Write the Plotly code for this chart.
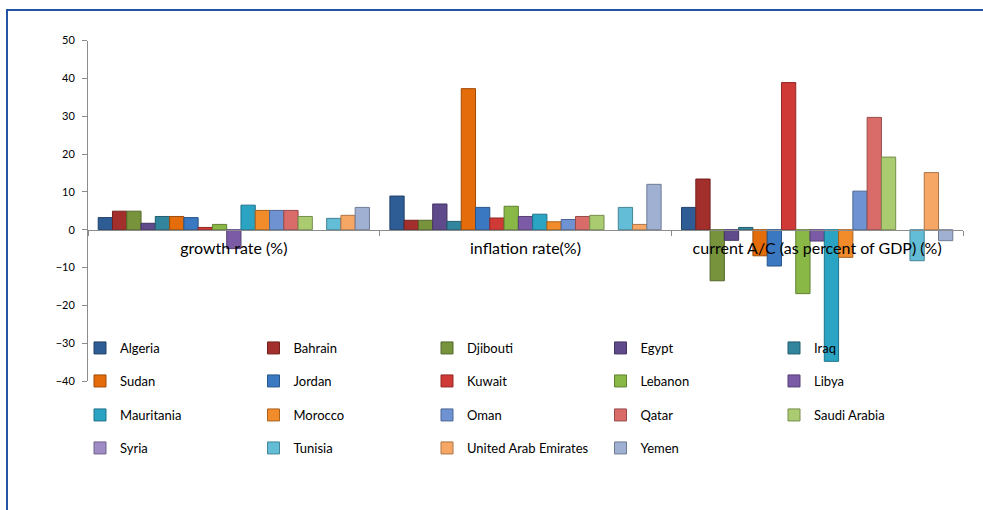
import plotly.graph_objects as go

categories = ["growth rate (%)", "inflation rate(%)", "current A/C (as percent of GDP) (%)"]

countries = [
    "Algeria", "Bahrain", "Djibouti", "Egypt", "Iraq",
    "Sudan", "Jordan", "Kuwait", "Lebanon", "Libya",
    "Mauritania", "Morocco", "Oman", "Qatar", "Saudi Arabia",
    "Syria", "Tunisia", "United Arab Emirates", "Yemen",
]

growth_rate = [3.2, 4.9, 4.9, 1.7, 3.5, 3.5, 3.2, 0.6, 1.4, -5.0,
               6.5, 5.1, 5.1, 5.1, 3.5, None, 3.0, 3.8, 5.9]
inflation_rate = [8.9, 2.5, 2.5, 6.8, 2.2, 37.3, 5.9, 3.1, 6.2, 3.5,
                  4.1, 2.1, 2.7, 3.5, 3.8, None, 5.9, 1.4, 12.0]
current_account = [5.9, 13.4, -13.5, -2.8, 0.6, -6.9, -9.6, 38.9, -16.9, -3.0,
                   -34.8, -7.3, 10.2, 29.7, 19.2, None, -8.2, 15.1, -2.9]

colors = [
    "#2E5C94", "#A32F2C", "#77933C", "#5F4B8B", "#31859C",
    "#E46C0A", "#3A78C2", "#D03A36", "#8AB847", "#7B5BA6",
    "#2BA4C4", "#F28B2A", "#6F93D2", "#D96B69", "#AACB6F",
    "#A08CC4", "#63BDD6", "#F7A765", "#9FB0D3",
]


def darker(hex_color, f=0.7):
    h = hex_color.lstrip("#")
    r, g, b = (int(h[i:i + 2], 16) for i in (0, 2, 4))
    return "rgb({},{},{})".format(int(r * f), int(g * f), int(b * f))


# canvas geometry in pixels; paper coordinates span the whole canvas
W, H = 983, 510
plot_left, plot_right = 88, 963
plot_top, plot_bottom = 40.6, 381
y_min, y_max = -40, 50


def px(xp):
    return xp / W


def py(yp):
    return (H - yp) / H


fig = go.Figure()

legend_names = ["legend", "legend2", "legend3", "legend4"]
for i, name in enumerate(countries):
    vals = [growth_rate[i], inflation_rate[i], current_account[i]]
    fig.add_trace(go.Bar(
        x=categories,
        y=vals,
        name=name,
        marker=dict(color=colors[i], line=dict(color=darker(colors[i]), width=1)),
        legend=legend_names[i // 5],
    ))

font_family = "Lato, 'Open Sans', sans-serif"
legend_rows_py = [348, 381, 415, 448]
legend_common = dict(
    orientation="h",
    entrywidth=128.5,
    entrywidthmode="pixels",
    font=dict(family=font_family, size=13, color="#000000"),
    bgcolor="rgba(0,0,0,0)",
    xanchor="left",
    yanchor="middle",
    x=px(80),
    itemclick=False,
    itemdoubleclick=False,
)
legend_layout = {}
for k, lname in enumerate(legend_names):
    legend_layout[lname] = dict(legend_common, y=py(legend_rows_py[k]))

zero_py = plot_bottom - (0 - y_min) / (y_max - y_min) * (plot_bottom - plot_top)

fig.update_layout(
    width=W,
    height=H,
    margin=dict(l=0, r=0, t=0, b=0, autoexpand=False),
    paper_bgcolor="white",
    plot_bgcolor="white",
    barmode="group",
    bargap=0.07,
    bargroupgap=0,
    showlegend=True,
    font=dict(family=font_family, color="#000000"),
    xaxis=dict(
        type="category",
        domain=[px(plot_left), px(plot_right)],
        anchor="free",
        position=py(zero_py),
        automargin=False,
        showline=True,
        linecolor="#8C8C8C",
        linewidth=1,
        ticks="outside",
        tickson="boundaries",
        ticklen=5,
        tickcolor="#8C8C8C",
        ticklabelstandoff=4,
        tickfont=dict(family=font_family, size=16, color="#000000"),
        showgrid=False,
        zeroline=False,
        fixedrange=True,
    ),
    yaxis=dict(
        domain=[py(plot_bottom), py(plot_top)],
        anchor="x",
        automargin=False,
        range=[y_min, y_max],
        dtick=10,
        tick0=0,
        showline=True,
        linecolor="#8C8C8C",
        linewidth=1,
        ticks="outside",
        ticklen=5,
        tickcolor="#8C8C8C",
        ticklabelstandoff=5,
        tickfont=dict(family=font_family, size=11, color="#000000"),
        showgrid=False,
        zeroline=False,
        fixedrange=True,
    ),
    shapes=[
        dict(
            type="rect",
            xref="paper", yref="paper",
            x0=px(7), x1=px(1060),
            y0=py(600), y1=py(10),
            line=dict(color="#2455A4", width=2),
            fillcolor="rgba(0,0,0,0)",
            layer="below",
        )
    ],
    **legend_layout,
)

fig.write_html("out.html")
